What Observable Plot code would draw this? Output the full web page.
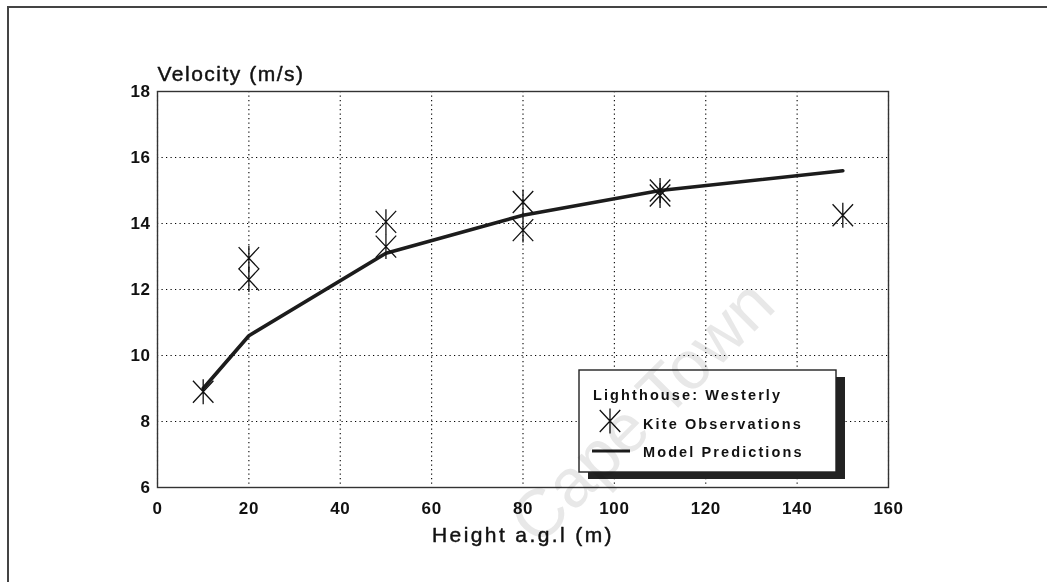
<!DOCTYPE html>
<html>
<head>
<meta charset="utf-8">
<script src="https://cdn.jsdelivr.net/npm/d3@7"></script>
<script src="https://cdn.jsdelivr.net/npm/@observablehq/plot@0.6"></script>
<style>
  html, body { margin: 0; padding: 0; background: #fff; }
  body { width: 1047px; height: 582px; overflow: hidden; position: relative; font-family: "Liberation Sans", Arial, sans-serif; }
  #frame { position: absolute; left: 7px; top: 6px; width: 1200px; height: 800px; border-left: 2px solid #444; border-top: 2px solid #444; }
  #chart { position: absolute; left: 0; top: 0; }
  #legend { position: absolute; left: 0; top: 0; }
  #wm { position: absolute; left: 0; top: 0; pointer-events: none; mix-blend-mode: multiply; }
  [aria-label="x-axis tick label"] text, [aria-label="y-axis tick label"] text { letter-spacing: 0.6px; }
</style>
</head>
<body>
<div id="frame"></div>
<div id="chart"></div>
<svg id="legend" width="1047" height="582"></svg>
<svg id="wm" width="1047" height="582"></svg>
<script>
// ---- data ----
const obsHeight   = [10, 20, 20, 50, 50, 80, 80, 110, 110, 150];
const obsVelocity = [8.9, 12.95, 12.3, 14.05, 13.3, 14.65, 13.8, 15.0, 14.85, 14.25];
const modelHeight   = [10, 20, 50, 80, 110, 150];
const modelVelocity = [9.0, 10.6, 13.1, 14.25, 15.0, 15.6];
const xTicks = [0, 20, 40, 60, 80, 100, 120, 140, 160];
const yTicks = [6, 8, 10, 12, 14, 16, 18];
const yTitle = "Velocity (m/s)";
const xTitle = "Height a.g.l (m)";
const legendTitle = "Lighthouse: Westerly";
const legendObs = "Kite Observations";
const legendModel = "Model Predictions";
const watermark = "Cape Town";

const obs = obsHeight.map((h, i) => ({height: h, velocity: obsVelocity[i]}));
const model = modelHeight.map((h, i) => ({height: h, velocity: modelVelocity[i]}));

// six-armed star (vertical stroke + X)
const kiteStar = {
  draw(ctx, size) {
    const r = Math.sqrt(size / Math.PI);
    const a = 0.82 * r, b = 0.88 * r;
    ctx.moveTo(0, -r); ctx.lineTo(0, r);
    ctx.moveTo(-a, -b); ctx.lineTo(a, b);
    ctx.moveTo(-a, b); ctx.lineTo(a, -b);
  }
};

const font = "Liberation Sans, Arial, sans-serif";
const chart = Plot.plot({
  width: 1047, height: 582,
  marginLeft: 157, marginRight: 159, marginTop: 91, marginBottom: 95,
  style: {background: "transparent", fontFamily: font, color: "#111"},
  x: {domain: [0, 160]},
  y: {domain: [6, 18]},
  marks: [
    Plot.gridX(xTicks, {stroke: "#000", strokeOpacity: 1, strokeWidth: 1.1, strokeDasharray: "1.2,3.3"}),
    Plot.gridY(yTicks, {stroke: "#000", strokeOpacity: 1, strokeWidth: 1.1, strokeDasharray: "1.2,3.3"}),
    Plot.frame({stroke: "#333", strokeWidth: 1.4}),
    Plot.axisX(xTicks, {tickSize: 0, tickPadding: 14, fontSize: 17, fontWeight: "bold", label: null}),
    Plot.axisY(yTicks, {tickSize: 0, tickPadding: 7, fontSize: 17, fontWeight: "bold", label: null}),
    Plot.line(model, {x: "height", y: "velocity", stroke: "#1c1c1c", strokeWidth: 3.6, strokeLinejoin: "round", strokeLinecap: "round"}),
    Plot.dot(obs, {x: "height", y: "velocity", symbol: kiteStar, r: 12.5, fill: "none", stroke: "#111", strokeWidth: 1.3}),
    Plot.text([yTitle], {frameAnchor: "top-left", textAnchor: "start", lineAnchor: "bottom", dy: -11, fontSize: 21, fill: "#111", stroke: "#111", strokeWidth: 0.45}),
    Plot.text([xTitle], {frameAnchor: "bottom", textAnchor: "middle", lineAnchor: "bottom", dy: 54, fontSize: 21, fill: "#111", stroke: "#111", strokeWidth: 0.45})
  ]
});
document.getElementById("chart").appendChild(chart);
d3.select(chart).selectAll("text").filter(function(){ return this.textContent === yTitle; }).style("letter-spacing", "1.5px");
d3.select(chart).selectAll("text").filter(function(){ return this.textContent === xTitle; }).style("letter-spacing", "2.4px");

// ---- legend (box with drop shadow) ----
const lg = d3.select("#legend");
const L = {x: 579, y: 370, w: 257, h: 102};
lg.append("rect").attr("x", L.x + 9).attr("y", L.y + 7).attr("width", L.w).attr("height", L.h).attr("fill", "#222");
lg.append("rect").attr("x", L.x).attr("y", L.y).attr("width", L.w).attr("height", L.h).attr("fill", "#fff").attr("stroke", "#222").attr("stroke-width", 1.4);
const tstyle = s => s.attr("font-family", font).attr("font-weight", "bold").attr("font-size", 14.5).attr("fill", "#111").style("letter-spacing", "2.1px");
lg.append("text").attr("x", 593).attr("y", 400).text(legendTitle).call(tstyle);
lg.append("path").attr("d", d3.symbol(kiteStar, Math.PI * 12.5 * 12.5)()).attr("transform", "translate(610,421)")
  .attr("fill", "none").attr("stroke", "#111").attr("stroke-width", 1.3);
lg.append("text").attr("x", 643).attr("y", 429).text(legendObs).call(tstyle);
lg.append("line").attr("x1", 592).attr("x2", 630).attr("y1", 451).attr("y2", 451).attr("stroke", "#1c1c1c").attr("stroke-width", 3);
lg.append("text").attr("x", 643).attr("y", 457).text(legendModel).call(tstyle);

// ---- faint watermark ----
d3.select("#wm").append("text")
  .attr("transform", "translate(778,308) rotate(-45)")
  .attr("text-anchor", "end")
  .attr("font-family", font).attr("font-size", 68)
  .attr("fill", "#e8e8e8")
  .text(watermark);
</script>
</body>
</html>
